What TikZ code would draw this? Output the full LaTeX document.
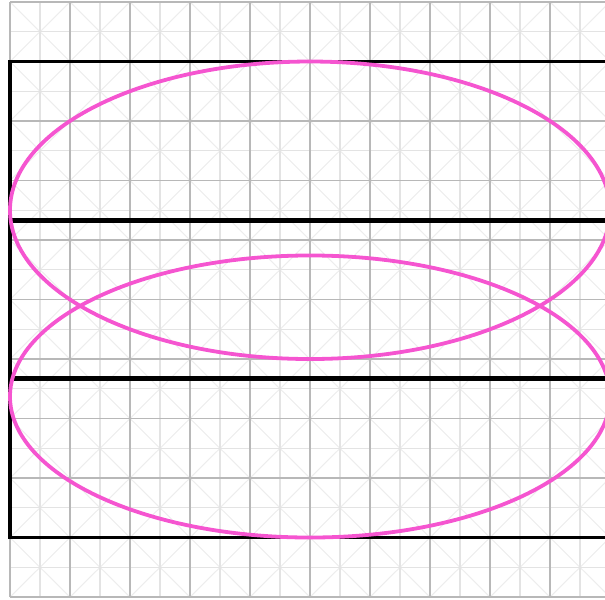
\documentclass[tikz,border=0pt]{standalone}
\usepackage{xcolor}
\usepackage{tikz}
\definecolor{lobepink}{RGB}{245,85,208}

\begin{document}
\begin{tikzpicture}[
    x=1cm, y=0.9917cm,
    major/.style={draw=black!28, line width=0.55pt},
    minor/.style={draw=black!11, line width=0.5pt},
    diag/.style={draw=black!7, line width=0.5pt},
    frame/.style={draw=black, line width=1.6pt},
    band/.style={draw=black, line width=2.4pt},
    lobe/.style={draw=lobepink, line width=1.8pt}
  ]
    \useasboundingbox (-0.1667,-0.034) rectangle (9.9167,10.034);
    \clip (-0.1667,-0.034) rectangle (9.9167,10.034);
    % square grid with crossed cells
    \begin{scope}
      \clip (0,0) rectangle (10,10);
      \foreach \k in {-10,...,10} \draw[diag] (\k,0) -- ++(10,10);
      \foreach \k in {0,...,20} \draw[diag] (\k,0) -- ++(-10,10);
    \end{scope}
    \foreach \i in {0,...,9} {
      \draw[minor] (\i+0.5,0) -- (\i+0.5,10);
      \draw[minor] (0,\i+0.5) -- (10,\i+0.5);
    }
    \foreach \i in {0,...,10} {
      \draw[major] (\i,0) -- (\i,10);
      \draw[major] (0,\i) -- (10,\i);
    }
    % frame in three bands
    \coordinate (topleft) at (0,9);
    \coordinate (botright) at (10.5,1);
    \coordinate (cutup) at (0,6.333);
    \coordinate (cutdown) at (0,3.667);
    \draw[frame] (topleft) rectangle (botright);
    \draw[band] (cutup) -- ++(10.5,0);
    \draw[band] (cutdown) -- ++(10.5,0);
    % the two ellipses
    \coordinate (upperc) at (5,6.5);
    \coordinate (lowerc) at (5,3.37);
    \draw[lobe] (upperc) ellipse [x radius=5, y radius=2.5];
    \draw[lobe] (lowerc) ellipse [x radius=5, y radius=2.37];
\end{tikzpicture}
\end{document}
